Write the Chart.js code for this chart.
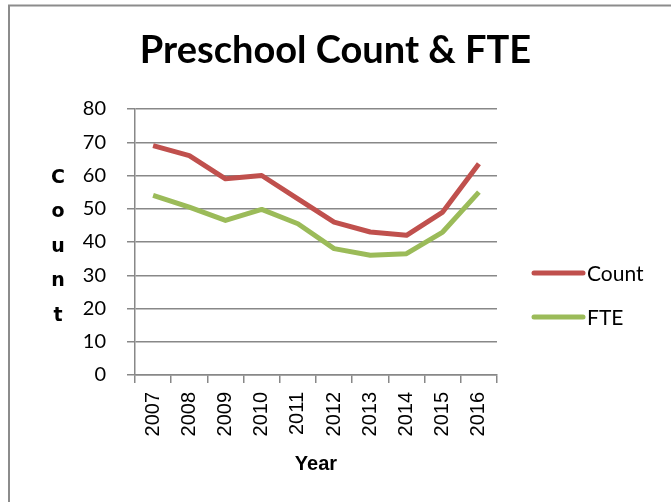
<!DOCTYPE html>
<html>
<head>
<meta charset="utf-8">
<script src="https://cdn.jsdelivr.net/npm/chart.js@4.4.1/dist/chart.umd.min.js"></script>
<style>
  html, body { margin: 0; padding: 0; background: #fff; }
  #wrap { width: 671px; height: 502px; position: relative; }
</style>
</head>
<body>
<div id="wrap"><canvas id="chart"></canvas></div>
<script>
const years = ["2007", "2008", "2009", "2010", "2011", "2012", "2013", "2014", "2015", "2016"];
const countValues = [69, 66, 59, 60, 53, 46, 43, 42, 49, 63.5];
const fteValues = [54, 50.5, 46.5, 49.8, 45.5, 38, 36, 36.5, 43, 55];
const yTicks = [0, 10, 20, 30, 40, 50, 60, 70, 80];

// frame lines (top + left only, like the source image)
const framePlugin = {
  id: "frame",
  beforeDraw(chart) {
    const ctx = chart.ctx;
    ctx.save();
    ctx.fillStyle = "#fff";
    ctx.fillRect(0, 0, chart.width, chart.height);
    ctx.strokeStyle = "#8c8c8c";
    ctx.lineWidth = 2;
    ctx.beginPath();
    ctx.moveTo(9, chart.height);
    ctx.lineTo(9, 5.5);
    ctx.lineTo(chart.width, 5.5);
    ctx.stroke();
    ctx.restore();
  }
};

// stacked y-axis title + legend on the right
const extrasPlugin = {
  id: "extras",
  afterDraw(chart) {
    const ctx = chart.ctx;
    const area = chart.chartArea;
    ctx.save();
    // y title, letters stacked
    ctx.fillStyle = "#000";
    ctx.font = "bold 19px 'DejaVu Sans'";
    ctx.textAlign = "center";
    ctx.textBaseline = "middle";
    const letters = "Count".split("");
    const mid = (area.top + area.bottom) / 2 + 5;
    letters.forEach((ch, i) => {
      ctx.fillText(ch, 58, mid + (i - 2) * 34.5);
    });
    // legend
    ctx.font = "21px Lato";
    ctx.textAlign = "left";
    chart.data.datasets.forEach((ds, i) => {
      const y = 273 + i * 44;
      ctx.strokeStyle = ds.borderColor;
      ctx.lineWidth = 5;
      ctx.lineCap = "round";
      ctx.beginPath();
      ctx.moveTo(534, y);
      ctx.lineTo(583, y);
      ctx.stroke();
      ctx.fillText(ds.label, 587, y + 1);
    });
    ctx.restore();
  }
};

new Chart(document.getElementById("chart"), {
  type: "line",
  data: {
    labels: years,
    datasets: [
      {
        label: "Count",
        data: countValues,
        borderColor: "#C0504D",
        backgroundColor: "#C0504D",
        borderWidth: 5,
        pointRadius: 0,
        tension: 0,
        borderJoinStyle: "round",
      },
      {
        label: "FTE",
        data: fteValues,
        borderColor: "#9BBB59",
        backgroundColor: "#9BBB59",
        borderWidth: 5,
        pointRadius: 0,
        tension: 0,
        borderJoinStyle: "round",
      },
    ],
  },
  options: {
    responsive: true,
    maintainAspectRatio: false,
    animation: false,
    layout: { padding: 0 },
    plugins: {
      legend: { display: false },
      tooltip: { enabled: false },
      title: {
        display: true,
        text: "Preschool Count & FTE",
        color: "#000",
        font: { family: "Lato", weight: "bold", size: 38 },
        padding: { top: 27.5, bottom: 35.9 },
      },
    },
    scales: {
      x: {
        offset: true,
        afterFit(scale) { scale.height = 127; },
        grid: {
          offset: true,
          drawOnChartArea: false,
          drawTicks: true,
          tickLength: 8,
          color: "#888",
          lineWidth: 1.5,
        },
        border: { color: "#888", width: 1.5 },
        ticks: {
          color: "#000",
          font: { family: "Liberation Sans", size: 20 },
          minRotation: 90,
          maxRotation: 90,
          padding: 9,
          autoSkip: false,
        },
        title: {
          display: true,
          text: "Year",
          color: "#000",
          font: { family: "Liberation Sans", weight: "bold", size: 20 },
          padding: { top: 0, bottom: 26 },
        },
      },
      y: {
        min: 0,
        max: 80,
        afterFit(scale) { scale.width = 135; },
        afterBuildTicks(scale) { scale.ticks = yTicks.map((v) => ({ value: v })); },
        grid: {
          color: "#888",
          lineWidth: 1.5,
          tickLength: 8,
        },
        border: { color: "#888", width: 1.5 },
        ticks: {
          color: "#000",
          font: { family: "Lato", size: 20 },
          padding: 21,
        },
      },
      // empty right-hand space that holds the legend
      legendSpace: {
        position: "right",
        afterFit(scale) { scale.width = 174; },
        grid: { display: false },
        border: { display: false },
        ticks: { display: false },
      },
    },
  },
  plugins: [framePlugin, extrasPlugin],
});
</script>
</body>
</html>
